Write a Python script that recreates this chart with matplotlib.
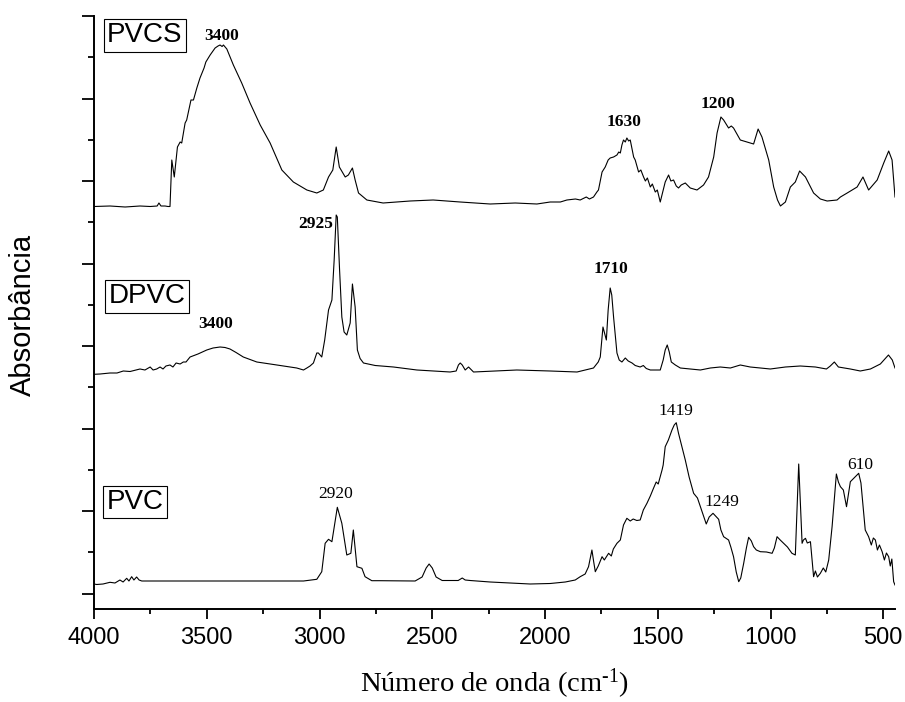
import matplotlib
matplotlib.use("Agg")
import matplotlib.pyplot as plt
from matplotlib.ticker import MultipleLocator, FixedLocator

plt.rcParams["mathtext.fontset"] = "custom"
plt.rcParams["mathtext.rm"] = "Liberation Serif"
plt.rcParams["mathtext.it"] = "Liberation Serif:italic"

# ---- FTIR spectra (wavenumber in cm-1, stacked absorbance in arbitrary units) ----
pvcs_wn = [4000, 3929, 3862, 3796, 3751, 3720, 3712, 3703, 3685, 3672, 3663, 3655, 3644,
           3630, 3618, 3611, 3596, 3589, 3570, 3559, 3544, 3530, 3512, 3504, 3485, 3463,
           3450, 3441, 3432, 3426, 3411, 3382, 3345, 3308, 3263, 3219, 3167, 3116, 3056,
           3012, 2983, 2960, 2941, 2926, 2912, 2886, 2872, 2854, 2842, 2827, 2790, 2753,
           2718, 2598, 2496, 2376, 2243, 2132, 2036, 1977, 1932, 1903, 1865, 1844, 1817,
           1803, 1785, 1770, 1763, 1747, 1733, 1720, 1711, 1696, 1681, 1673, 1666, 1659,
           1652, 1644, 1637, 1629, 1622, 1607, 1600, 1585, 1575, 1563, 1555, 1546, 1533,
           1524, 1511, 1502, 1489, 1478, 1467, 1452, 1442, 1430, 1418, 1408, 1396, 1378,
           1356, 1326, 1297, 1275, 1252, 1237, 1220, 1208, 1186, 1174, 1164, 1134, 1104,
           1075, 1055, 1038, 1008, 986, 969, 956, 934, 912, 890, 871, 845, 809, 779, 749,
           705, 690, 660, 616, 590, 565, 527, 498, 476, 461, 448]
pvcs_abs = [402.5, 403, 402, 403, 402.5, 403, 406, 403, 403, 402.5, 402.5, 449, 432,
            462, 467, 466, 486, 489, 509, 509, 521, 531, 541, 547, 554, 561,
            563, 564, 562.5, 564, 560, 544, 526, 506, 484, 466, 439, 427, 419,
            416, 419, 432, 439, 462, 442, 432, 434, 441, 429, 416, 409, 407.5,
            406, 408, 409, 407, 405, 406, 405, 407, 407, 409, 410, 409, 412,
            410, 412, 417, 419, 437, 442, 449, 451, 452, 454, 457, 456, 464,
            469, 467, 471, 468, 469, 452, 449, 437, 439, 432, 428, 431, 422,
            425, 417, 419, 407, 417, 427, 434, 428, 429, 423, 421, 424, 426,
            421, 419, 424, 432, 452, 476, 492, 489, 481, 483, 481, 469, 467,
            465, 480, 472, 449, 422, 409, 403, 407, 422, 427, 438, 432, 416, 410, 408,
            409, 412, 416, 422, 432, 419, 429, 446, 458, 449, 412]

dpvc_wn = [4000, 3973, 3929, 3898, 3870, 3840, 3796, 3774, 3751, 3738, 3722, 3707, 3694,
           3681, 3663, 3650, 3636, 3618, 3604, 3592, 3574, 3539, 3500, 3472, 3441, 3419,
           3397, 3370, 3338, 3278, 3189, 3101, 3071, 3056, 3042, 3027, 3012, 3005, 2990,
           2977, 2960, 2945, 2935, 2926, 2921, 2911, 2901, 2891, 2879, 2864, 2854, 2842,
           2832, 2820, 2805, 2753, 2672, 2568, 2421, 2394, 2384, 2376, 2367, 2354, 2339,
           2317, 2125, 1977, 1858, 1785, 1764, 1755, 1743, 1728, 1720, 1711, 1704, 1696,
           1681, 1671, 1659, 1644, 1631, 1614, 1600, 1578, 1564, 1551, 1533, 1489, 1476,
           1467, 1458, 1449, 1440, 1422, 1400, 1356, 1311, 1267, 1223, 1178, 1134, 1090,
           1045, 1001, 934, 868, 801, 752, 735, 717, 699, 646, 602, 557, 513, 477, 460, 448]
dpvc_abs = [234.7, 235, 236, 236, 238, 237.5, 240, 239, 242, 239, 240, 242, 240,
            243, 244, 242, 246, 245, 247, 247, 252, 255, 259, 261, 262, 261.5,
            260, 256.5, 252, 247, 244, 241, 239, 241, 243, 246, 256, 256, 252,
            269, 299, 309, 349, 394, 392, 339, 292, 277, 274, 286, 325, 302,
            259, 250.5, 246, 243.5, 242, 239, 237, 238, 244, 246, 244, 239, 242,
            237, 239, 238, 237, 241, 247, 252, 282, 269, 299, 321, 314, 292,
            256, 249, 247, 251, 248, 246, 243.5, 242, 243.5, 240.5, 239, 239, 249,
            259, 264, 257, 247, 244, 241, 240, 239, 241, 242, 241, 244, 242,
            241, 240, 242, 243, 242, 240, 243, 247, 242, 240, 238, 240, 245, 254, 249, 241]

pvc_wn = [4000, 3988, 3960, 3929, 3907, 3885, 3871, 3855, 3845, 3833, 3823, 3811, 3800,
          3788, 3071, 3012, 2990, 2975, 2960, 2945, 2921, 2901, 2879, 2861, 2850, 2834,
          2812, 2798, 2768, 2731, 2576, 2545, 2527, 2514, 2500, 2483, 2456, 2385, 2367,
          2354, 2332, 2243, 2154, 2066, 1977, 1910, 1866, 1844, 1822, 1807, 1792, 1784,
          1777, 1764, 1747, 1737, 1718, 1706, 1697, 1681, 1666, 1652, 1637, 1622, 1609,
          1593, 1578, 1564, 1548, 1533, 1519, 1507, 1498, 1481, 1476, 1467, 1453, 1437,
          1427, 1418, 1408, 1396, 1378, 1361, 1341, 1324, 1311, 1285, 1272, 1255, 1230,
          1220, 1208, 1186, 1176, 1164, 1152, 1141, 1132, 1119, 1107, 1097, 1085, 1075,
          1063, 1045, 1018, 993, 983, 971, 957, 942, 925, 905, 890, 875, 860, 854, 845,
          837, 823, 809, 801, 792, 779, 766, 755, 742, 727, 708, 699, 690, 677, 663, 646,
          624, 609, 599, 587, 580, 565, 553, 544, 535, 526, 517, 505, 495, 486, 476, 469,
          462, 454, 448]
pvc_abs = [25, 24.5, 25, 26.7, 26, 29, 27, 30.7, 28, 32.3, 29, 32, 29,
           28, 28, 29.7, 37.3, 65.7, 69.7, 67.3, 101.7, 85.7, 54, 55.7, 79, 42.3,
           40.7, 32.3, 28.3, 28.3, 28, 32, 41, 45, 41, 32, 28.5, 28.5, 31,
           29, 28.5, 27, 26, 25, 25.5, 27, 29, 32.3, 35, 42.3, 59, 47,
           37.3, 43, 52.3, 49, 55.7, 53, 60, 65.7, 69, 84, 90.7, 88, 90,
           88.5, 89, 99, 105.7, 113, 120.7, 127, 125, 139, 144, 162.3, 169, 179,
           184, 186.3, 175.7, 165, 149, 132, 115.7, 111, 102.3, 85, 92, 95.7, 89.7,
           79, 72.3, 69, 62, 52.3, 37, 27.3, 31, 45.7, 61, 71.7, 68, 62.3,
           59, 57.3, 57, 55.7, 61, 72.3, 69, 65.7, 62, 55.7, 54, 145, 65.7, 69, 70.7,
           66, 67.3, 32.3, 38, 32, 35.7, 41, 37, 49, 82.3, 135, 127, 122.3, 119, 102.3, 127.3,
           132.3, 135.7, 126, 95.7, 79, 72.3, 64, 71, 69, 59, 64, 57.3, 49, 56, 52.3, 43,
           50, 27.3, 24]

# Sample names and band labels
sample_names = ["PVCS", "DPVC", "PVC"]
sample_label_pos = [(3774, 573.5), (3765, 312.7), (3819, 107)]

band_bold = ["3400", "1630", "1200", "2925", "1710", "3400"]
band_bold_pos = [(3433, 573.3), (1649, 487.3), (1232, 504.5),
                 (3017, 384.5), (1708, 340), (3460, 284.5)]
band_plain = ["2920", "1419", "1249", "610"]
band_plain_pos = [(2929, 115.5), (1418, 198), (1215, 107.5), (603, 144)]

fig = plt.figure(figsize=(9.05, 7.02), dpi=100)
ax = fig.add_axes([94 / 905, 93 / 702, 801 / 905, 593 / 702])

for wn, ab in [(pvcs_wn, pvcs_abs), (dpvc_wn, dpvc_abs), (pvc_wn, pvc_abs)]:
    ax.plot(wn, ab, color="black", lw=0.8, solid_joinstyle="round")

ax.set_xlim(4000, 448)
ax.set_ylim(0, 593)

for side in ("top", "right"):
    ax.spines[side].set_visible(False)
for side in ("left", "bottom"):
    ax.spines[side].set_linewidth(1.4)

ax.xaxis.set_major_locator(MultipleLocator(500))
ax.xaxis.set_minor_locator(MultipleLocator(250))
ax.yaxis.set_major_locator(FixedLocator([15.5 + 82.5 * k for k in range(8)]))
ax.yaxis.set_minor_locator(FixedLocator([57 + 82.5 * k for k in range(7)]))
ax.set_yticklabels([])
ax.tick_params(axis="x", which="major", direction="out", length=7.2, width=1.3,
               pad=5.5, labelsize=17)
ax.tick_params(axis="x", which="minor", direction="out", length=3.8, width=1.3)
ax.tick_params(axis="y", which="major", direction="out", length=8.6, width=1.3)
ax.tick_params(axis="y", which="minor", direction="out", length=4.3, width=1.3)
for lab in ax.get_xticklabels():
    lab.set_fontfamily("Liberation Sans")

ax.set_xlabel("Número de onda (cm$^{\\text{-1}}$)", fontfamily="Liberation Serif",
              fontsize=20.5, labelpad=13)
fig.text(23 / 905, 1 - 315 / 702, "Absorbância", rotation=90, ha="center", va="center",
         fontfamily="Liberation Sans", fontsize=21)

for name, (x, y) in zip(sample_names, sample_label_pos):
    ax.text(x, y, name, ha="center", va="center", fontfamily="Liberation Sans",
            fontsize=20,
            bbox=dict(boxstyle="square,pad=0.12", facecolor="white",
                      edgecolor="black", linewidth=0.8))

for txt, (x, y) in zip(band_bold, band_bold_pos):
    ax.text(x, y, txt, ha="center", va="center", fontfamily="Liberation Serif",
            fontweight="bold", fontsize=12.5)
for txt, (x, y) in zip(band_plain, band_plain_pos):
    ax.text(x, y, txt, ha="center", va="center", fontfamily="Liberation Serif",
            fontsize=12.5)

fig.savefig("out.png", dpi=100)
